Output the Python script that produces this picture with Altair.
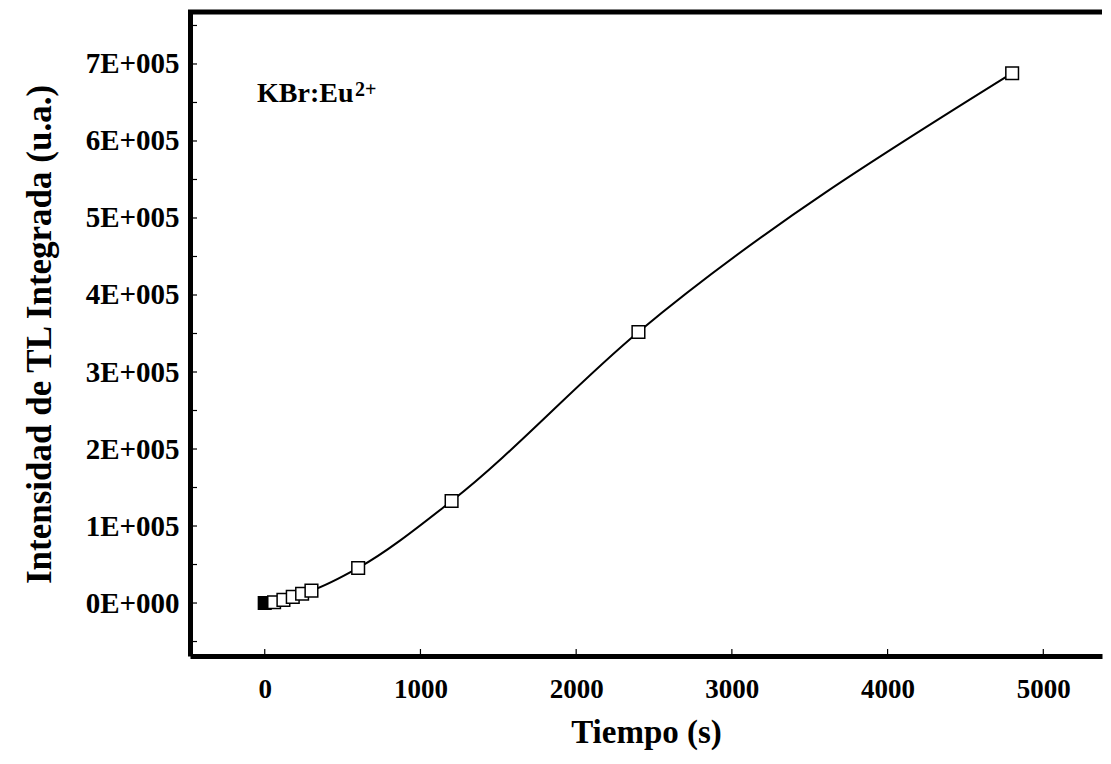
import altair as alt
import pandas as pd

tiempo = [0, 60, 120, 180, 240, 300, 600, 1200, 2400, 4800]
intensidad = [0, 1000, 4000, 8000, 12000, 16000, 45500, 132500, 352000, 688000]
relleno = [True, False, False, False, False, False, False, False, False, False]

x_ticks = [0, 1000, 2000, 3000, 4000, 5000]
y_ticks = [-50000, 0, 50000, 100000, 150000, 200000, 250000, 300000, 350000,
           400000, 450000, 500000, 550000, 600000, 650000, 700000, 750000]
y_labels = [0, 100000, 200000, 300000, 400000, 500000, 600000, 700000]

etiqueta = ["KBr:Eu"]
super_txt = ["2+"]

W, H = 912, 644
FONT = "Liberation Serif"

df = pd.DataFrame({"t": tiempo, "i": intensidad, "f": relleno})
xs = alt.Scale(domain=[-480, 5377], nice=False, zero=False)
ys = alt.Scale(domain=[-68800, 767500], nice=False, zero=False)

line = alt.Chart(df).mark_line(color="black", strokeWidth=2, interpolate="monotone").encode(
    x=alt.X("t:Q", scale=xs,
            axis=alt.Axis(values=x_ticks, format="d", ticks=False, grid=False, domainWidth=5,
                          domainColor="black",
                          labelFont=FONT, labelFontWeight="bold", labelFontSize=27, labelColor="black",
                          labelPadding=20, title="Tiempo (s)", titleFont=FONT, titleFontWeight="bold",
                          titleFontSize=33, titleColor="black", titlePadding=14, labelFlush=False)),
    y=alt.Y("i:Q", scale=ys,
            axis=alt.Axis(values=y_labels, ticks=False, grid=False, domainWidth=5, domainColor="black",
                          labelExpr="datum.value == 0 ? '0E+000' : (datum.value/100000) + 'E+005'",
                          labelFont=FONT, labelFontWeight="bold", labelFontSize=29, labelColor="black",
                          labelPadding=11, title="Intensidad de TL Integrada (u.a.)", titleFont=FONT,
                          titleFontWeight="bold", titleFontSize=35, titleColor="black", titlePadding=28,
                          labelFlush=False)),
)

pts = alt.Chart(df).mark_point(shape="square", size=160, strokeWidth=1.5, color="black", opacity=1).encode(
    x=alt.X("t:Q", scale=xs),
    y=alt.Y("i:Q", scale=ys),
    fill=alt.Fill("f:N", scale=alt.Scale(domain=[True, False], range=["black", "white"]), legend=None),
)

ytk = alt.Chart(pd.DataFrame({"v": y_ticks})).mark_rule(color="black", strokeWidth=1.2).encode(
    y=alt.Y("v:Q", scale=ys), x=alt.value(0), x2=alt.value(7))

xtk = alt.Chart(pd.DataFrame({"v": x_ticks})).mark_rule(color="black", strokeWidth=1.2).encode(
    x=alt.X("v:Q", scale=xs), y=alt.value(H), y2=alt.value(H - 7))

top = alt.Chart(pd.DataFrame({"a": [0]})).mark_rule(color="black", strokeWidth=5).encode(
    x=alt.value(-2), x2=alt.value(W), y=alt.value(0))

lbl = alt.Chart(pd.DataFrame({"s": etiqueta})).mark_text(
    font=FONT, fontWeight="bold", fontSize=28, align="left", baseline="alphabetic", color="black").encode(
    text="s:N", x=alt.value(67), y=alt.value(90))

sup = alt.Chart(pd.DataFrame({"s": super_txt})).mark_text(
    font=FONT, fontWeight="bold", fontSize=20, align="left", baseline="alphabetic", color="black").encode(
    text="s:N", x=alt.value(165), y=alt.value(84))

chart = alt.layer(line, pts, ytk, xtk, top, lbl, sup).properties(
    width=W, height=H,
    autosize=alt.AutoSizeParams(type="none"),
    padding={"left": 182, "top": 4, "right": 1, "bottom": 100},
    background="white",
).configure_view(stroke=None)

chart.save("out.html", embed_options={"renderer": "svg", "actions": False})
